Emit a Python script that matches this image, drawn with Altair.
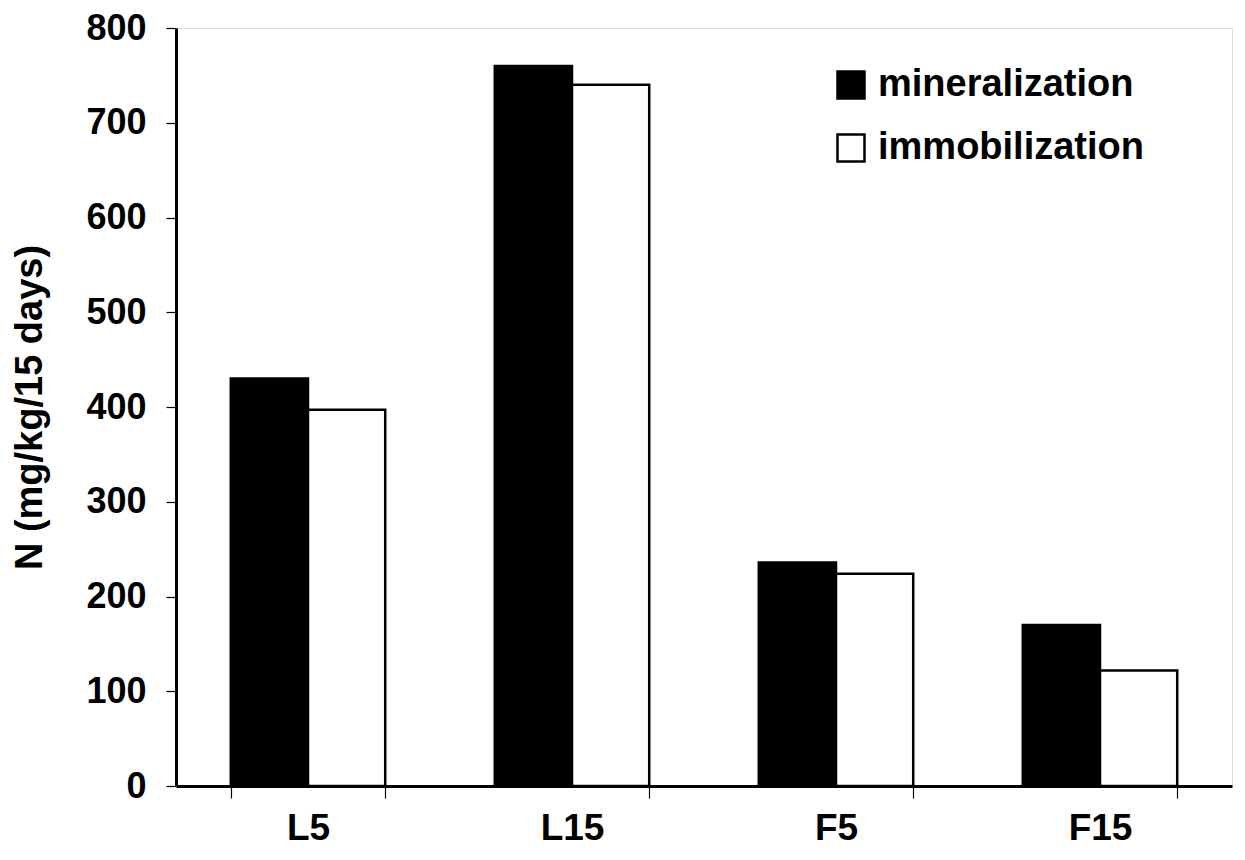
import altair as alt
import pandas as pd

categories = ["L5", "L15", "F5", "F15"]
series = ["mineralization", "immobilization"]
mineralization = [430, 760, 236, 170]
immobilization = [397, 740, 224, 122]

rows = []
for c, m, i in zip(categories, mineralization, immobilization):
    rows.append({"cat": c, "series": series[0], "value": m})
    rows.append({"cat": c, "series": series[1], "value": i})
df = pd.DataFrame(rows)

FONT = "Liberation Sans"

chart = alt.Chart(df).mark_bar(stroke="black", strokeWidth=2.5).encode(
    x=alt.X("cat:N", sort=categories, title=None,
            scale=alt.Scale(paddingInner=0.415, paddingOuter=0.2075),
            axis=alt.Axis(labelAngle=0, labelFontSize=37, labelFontWeight="bold",
                          labelFont=FONT, labelColor="black", labelPadding=12,
                          tickBand="extent", tickSize=12, tickColor="black", tickWidth=1.2,
                          domainColor="black", domainWidth=3)),
    xOffset=alt.XOffset("series:N", sort=series),
    y=alt.Y("value:Q", title="N (mg/kg/15 days)",
            scale=alt.Scale(domain=[0, 800], nice=False),
            axis=alt.Axis(values=list(range(0, 801, 100)), grid=False,
                          labelFontSize=36, labelFontWeight="bold", labelFont=FONT,
                          labelColor="black", labelPadding=20,
                          tickSize=10, tickColor="black", tickWidth=1.2,
                          domainColor="black", domainWidth=3,
                          titleFontSize=38, titleFontWeight="bold", titleFont=FONT,
                          titleColor="black", titlePadding=36)),
    fill=alt.Fill("series:N", sort=series,
                  scale=alt.Scale(domain=series, range=["black", "white"]),
                  legend=alt.Legend(title=None, orient="none", legendX=656, legendY=38,
                                    symbolType="square", symbolSize=729,
                                    symbolStrokeColor="black", symbolStrokeWidth=2.5,
                                    labelFontSize=38, labelFontWeight="bold", labelFont=FONT,
                                    labelColor="black", rowPadding=25, labelOffset=8,
                                    labelLimit=0)),
).properties(
    width=1056, height=758,
    autosize=alt.AutoSizeParams(type="none"),
    padding={"left": 168, "top": 20, "right": 5, "bottom": 64},
).configure_view(stroke="black", strokeWidth=3).configure(background="white")

chart.save("out.html", embed_options={"renderer": "svg", "actions": False})
